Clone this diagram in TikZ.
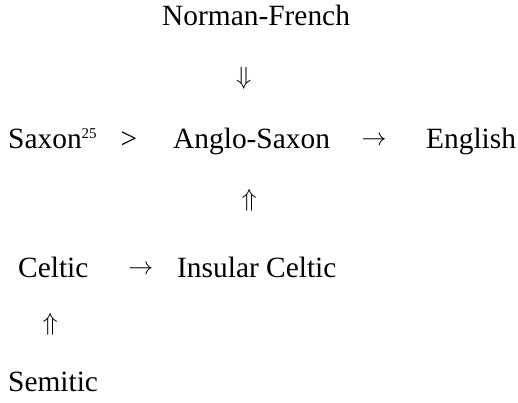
\documentclass[tikz,border=0pt]{standalone}
\usepackage{fontspec}
\setmainfont{Liberation Serif}
\begin{document}
\begin{tikzpicture}[x=1pt,y=-1pt,
  lang/.style={inner sep=0pt, anchor=base west, font=\fontsize{29.4}{32}\selectfont},
  vglyph/.style={inner sep=0pt, font=\fontsize{27}{30}\selectfont},
  hglyph/.style={inner sep=0pt, anchor=base, yshift=3pt, font=\fontsize{25}{28}\selectfont},
  rel/.style={inner sep=0pt, anchor=base, font=\fontsize{29.4}{32}\selectfont}]
\useasboundingbox (0,0) rectangle (518,403);

% language names
\node[lang] (nf)  at (162,26)  {Norman-French};
\node[lang] (sax) at (8,149)   {Saxon\raisebox{10pt}{\fontsize{15}{16}\selectfont 25}};
\node[lang] (as)  at (173,149) {Anglo-Saxon};
\node[lang] (eng) at (426,149) {English};
\node[lang] (cel) at (18,277)  {Celtic};
\node[lang] (ic)  at (177,277) {Insular Celtic};
\node[lang] (sem) at (8,391)   {Semitic};

% relations between them
\path (nf.south) -- node[vglyph, xshift=-10pt, yshift=-1pt] {$\Downarrow$} (as.north);
\path (sax.base east) -- node[rel, xshift=-6pt] {>} (as.base west);
\path (as.base east) -- node[hglyph, xshift=-4pt] {$\rightarrow$} (eng.base west);
\path (ic.north) -- node[vglyph, xshift=-5pt, yshift=6pt] {$\Uparrow$} (as.south);
\path (cel.base east) -- node[hglyph, xshift=8pt, font=\fontsize{27}{30}\selectfont] {$\rightarrow$} (ic.base west);
\path (sem.north) -- node[vglyph, xshift=-3pt] {$\Uparrow$} (cel.south);
\end{tikzpicture}
\end{document}
